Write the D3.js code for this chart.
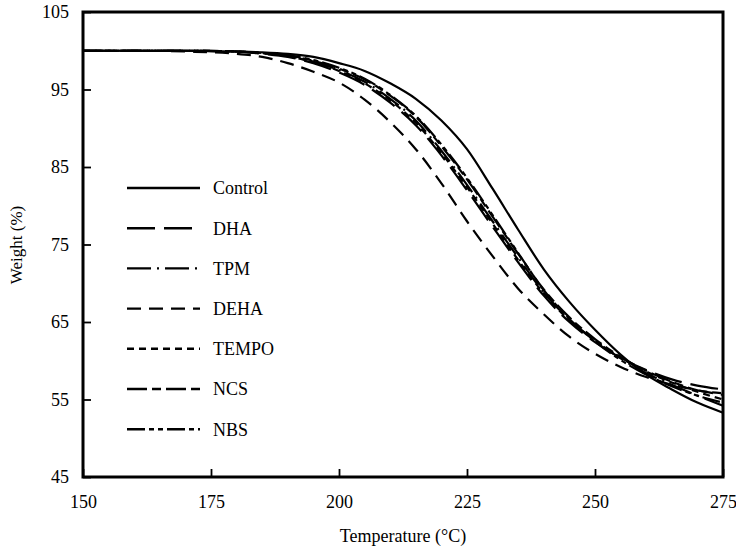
<!DOCTYPE html>
<html>
<head>
<meta charset="utf-8">
<script src="https://cdn.jsdelivr.net/npm/d3@7"></script>
<style>
    body { margin: 0; background: #fff; }
    text { font-family: "Liberation Serif", "DejaVu Serif", serif; fill: #000; }
</style>
</head>
<body>
<div id="chart-area"></div>
<script>
// temperature (°C) where each curve was read
const temps = [150, 160, 170, 180, 185, 190, 195, 200, 205, 210, 215, 220, 225, 230, 235, 240, 245, 250, 255, 260, 265, 270, 275];

const control = [100, 100, 100, 99.9, 99.8, 99.6, 99.2, 98.4, 97.4, 95.8, 93.8, 91.0, 87.3, 82.2, 76.9, 71.8, 67.6, 64.0, 60.8, 58.2, 56.3, 54.6, 53.3];
const dha     = [100, 100, 100, 99.9, 99.6, 99.2, 98.4, 97.2, 95.6, 93.3, 90.4, 86.5, 82.0, 77.3, 72.7, 68.4, 65.0, 62.4, 60.4, 58.8, 57.6, 56.8, 56.3];
const tpm     = [100, 100, 100, 99.9, 99.7, 99.3, 98.6, 97.5, 96.0, 93.8, 91.0, 87.1, 82.7, 78.0, 73.3, 68.8, 65.3, 62.6, 60.3, 58.4, 56.9, 55.5, 54.2];
const deha    = [100, 100, 99.9, 99.6, 99.2, 98.4, 97.3, 95.9, 93.7, 90.8, 87.3, 82.9, 78.0, 73.5, 69.3, 66.0, 63.1, 60.9, 59.2, 57.9, 56.9, 56.2, 55.6];
const tempo   = [100, 100, 100, 99.9, 99.7, 99.3, 98.5, 97.4, 95.8, 93.6, 90.7, 86.8, 82.4, 77.7, 73.0, 68.7, 65.2, 62.6, 60.4, 58.6, 57.2, 56.0, 55.0];
const ncs     = [100, 100, 100, 99.9, 99.7, 99.4, 98.7, 97.7, 96.3, 94.2, 91.5, 87.7, 83.4, 78.6, 73.8, 69.2, 65.6, 62.8, 60.5, 58.7, 57.3, 56.2, 55.8];
const nbs     = [100, 100, 100, 99.9, 99.7, 99.4, 98.8, 97.8, 96.4, 94.3, 91.6, 87.9, 83.6, 78.8, 73.9, 69.1, 65.4, 62.5, 60.1, 58.2, 56.7, 55.5, 54.6];

const seriesNames = ["Control", "DHA", "TPM", "DEHA", "TEMPO", "NCS", "NBS"];
const seriesValues = [control, dha, tpm, deha, tempo, ncs, nbs];
const dashes = ["none", "28,9", "24,6,2,6", "14,8", "7,5", "20,5,9,5", "18,4,5,4,5,4"];

const xTicks = [150, 175, 200, 225, 250, 275];
const yTicks = [45, 55, 65, 75, 85, 95, 105];

const w = 736;
const h = 550;

const xScale = d3.scaleLinear()
                    .domain([150, 275])
                    .range([83, 723]);

const yScale = d3.scaleLinear()
                    .domain([45, 105])
                    .range([477, 12]);

const svg = d3.select("#chart-area")
    .append("svg")
    .attr("width", w)
    .attr("height", h);

const xAxis = d3.axisBottom(xScale)
    .tickValues(xTicks)
    .tickSizeInner(-8)
    .tickSizeOuter(0)
    .tickPadding(18);

const yAxis = d3.axisLeft(yScale)
    .tickValues(yTicks)
    .tickSizeInner(-8)
    .tickSizeOuter(0)
    .tickPadding(14);

const gx = svg.append("g")
    .attr("transform", "translate(0," + yScale(45) + ")")
    .attr("id", "x-axis")
    .call(xAxis);

const gy = svg.append("g")
    .attr("transform", "translate(" + xScale(150) + ",0)")
    .attr("id", "y-axis")
    .call(yAxis);

[gx, gy].forEach(g => {
    g.select(".domain").remove();
    g.selectAll("line").attr("stroke", "#000").attr("stroke-width", 1.8);
    g.selectAll("text")
        .style("font-family", "'Liberation Serif', serif")
        .style("font-size", "18px")
        .attr("fill", "#000");
});

// frame
svg.append("rect")
    .attr("x", xScale(150))
    .attr("y", yScale(105))
    .attr("width", xScale(275) - xScale(150))
    .attr("height", yScale(45) - yScale(105))
    .attr("fill", "none")
    .attr("stroke", "#000")
    .attr("stroke-width", 3);

const line = d3.line()
    .x((d, i) => xScale(temps[i]))
    .y(d => yScale(d))
    .curve(d3.curveMonotoneX);

svg.selectAll(".curve")
    .data(seriesValues)
    .enter()
    .append("path")
    .attr("class", "curve")
    .attr("d", d => line(d))
    .attr("fill", "none")
    .attr("stroke", "#000")
    .attr("stroke-width", 2.2)
    .attr("stroke-dasharray", (d, i) => dashes[i]);

// legend
const legend = svg.selectAll(".legend")
    .data(seriesNames)
    .enter()
    .append("g")
    .attr("class", "legend")
    .attr("transform", (d, i) => "translate(0," + (188 + i * 40.2) + ")");

legend.append("line")
    .attr("x1", 127)
    .attr("x2", 200)
    .attr("y1", 0)
    .attr("y2", 0)
    .attr("stroke", "#000")
    .attr("stroke-width", 2.4)
    .attr("stroke-dasharray", (d, i) => dashes[i]);

legend.append("text")
    .attr("x", 213)
    .attr("y", 0)
    .attr("dy", "0.35em")
    .style("font-size", "18px")
    .text(d => d);

svg.append("text")
    .attr("x", 403)
    .attr("y", 542)
    .attr("text-anchor", "middle")
    .style("font-size", "18px")
    .text("Temperature (°C)");

svg.append("text")
    .attr("transform", "translate(22,245) rotate(-90)")
    .attr("text-anchor", "middle")
    .style("font-size", "17px")
    .text("Weight (%)");
</script>
</body>
</html>
